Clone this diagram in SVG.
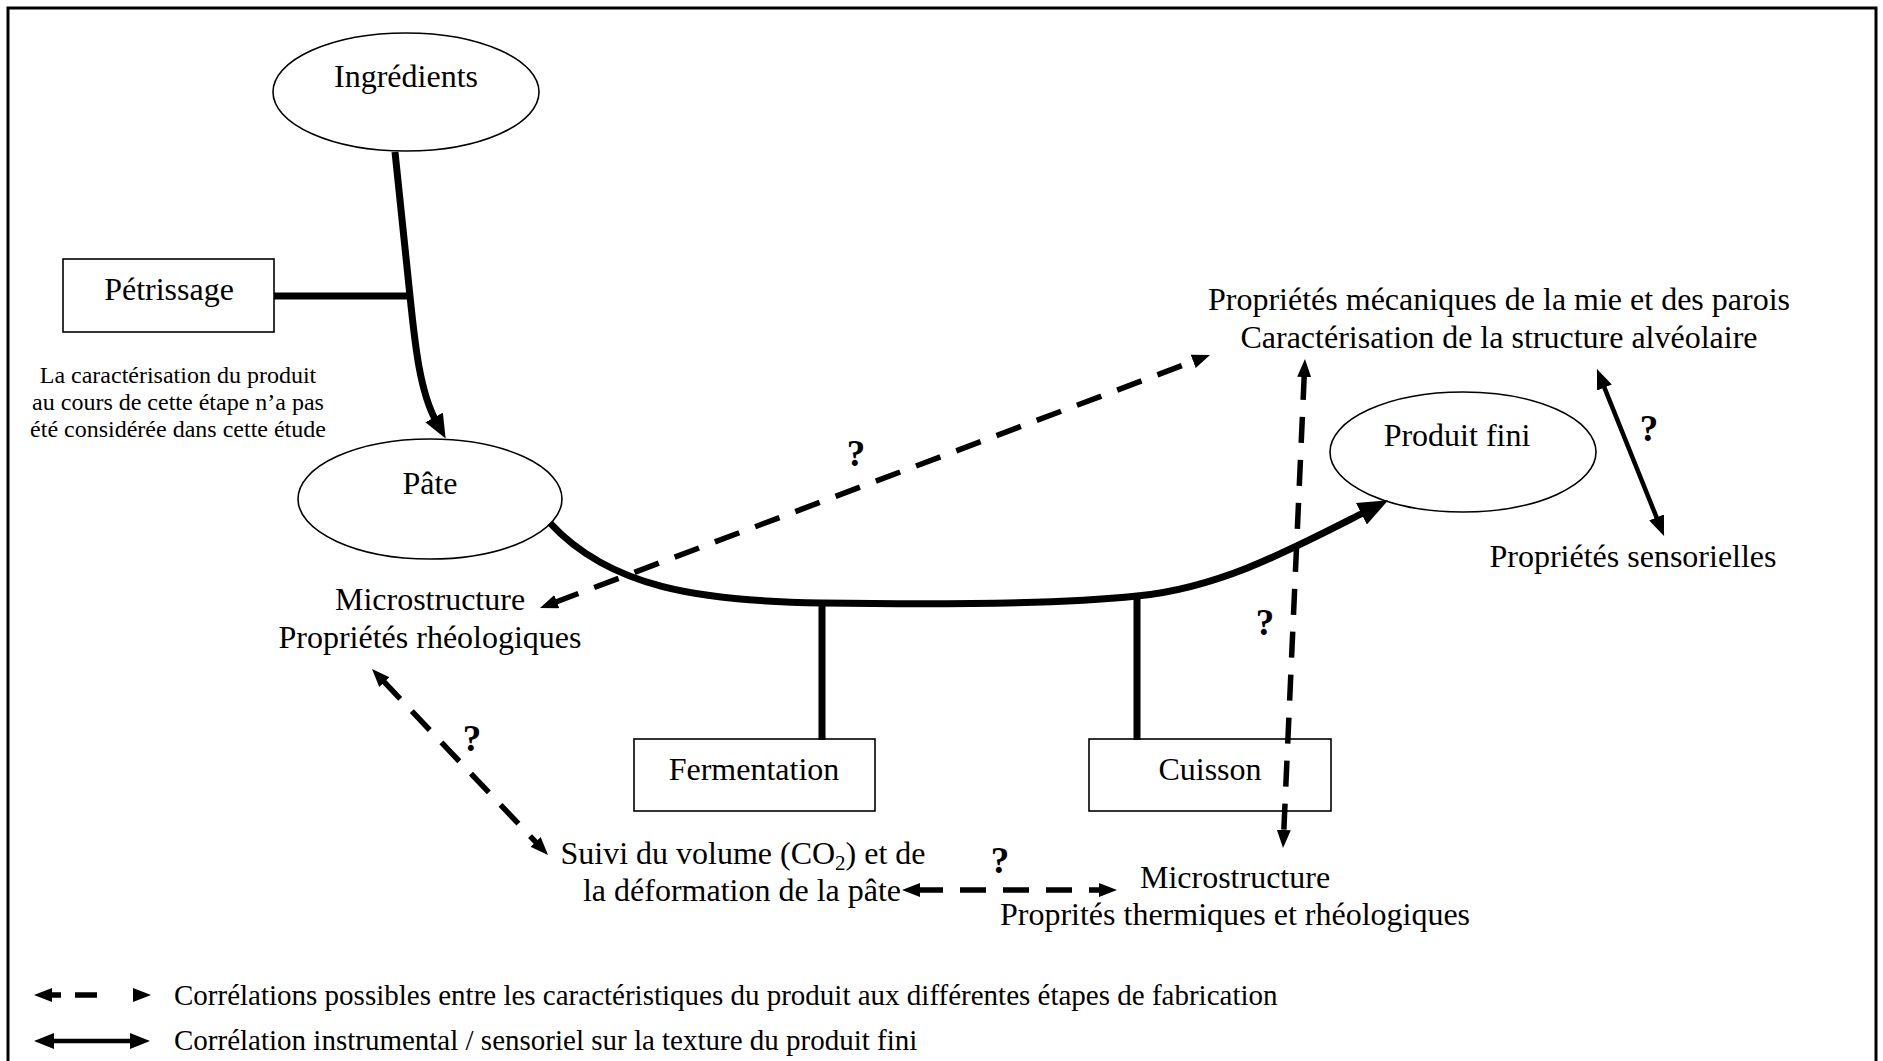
<svg xmlns="http://www.w3.org/2000/svg" width="1883" height="1061" viewBox="0 0 1883 1061">
<style>
text{font-family:"Liberation Serif","Times New Roman",serif;fill:#000}
.t{font-size:32px;text-anchor:middle}
.n{font-size:24px;text-anchor:middle}
.lg{font-size:29px}
.q{font-size:37px;font-weight:bold;text-anchor:middle}
.shape{fill:#fff;stroke:#000;stroke-width:1.6}
.thick{fill:none;stroke:#000;stroke-width:7}
.dash{fill:none;stroke:#000;stroke-width:5.5;stroke-dasharray:26 17}
.solid{fill:none;stroke:#000;stroke-width:4.5}
</style>
<defs>
<marker id="a" markerUnits="userSpaceOnUse" markerWidth="18" markerHeight="14" refX="3" refY="7" orient="auto-start-reverse"><path d="M0,0 L18,7 L0,14 z" fill="#000"/></marker>
<marker id="b" markerUnits="userSpaceOnUse" markerWidth="20" markerHeight="16" refX="3" refY="8" orient="auto-start-reverse"><path d="M0,0 L20,8 L0,16 z" fill="#000"/></marker>
<marker id="c" markerUnits="userSpaceOnUse" markerWidth="30" markerHeight="24" refX="4" refY="12" orient="auto"><path d="M0,0 L30,12 L0,24 z" fill="#000"/></marker>
<marker id="d" markerUnits="userSpaceOnUse" markerWidth="24" markerHeight="20" refX="4" refY="10" orient="auto"><path d="M0,0 L24,10 L0,20 z" fill="#000"/></marker>
</defs>
<rect x="0" y="0" width="1883" height="1061" fill="#fff"/>
<rect x="8" y="8" width="1868" height="1100" fill="none" stroke="#000" stroke-width="3"/>

<g id="ingredients"><ellipse class="shape" cx="406" cy="92" rx="133" ry="59"/><text class="t" x="406" y="87">Ingrédients</text></g>
<g id="petrissage"><rect class="shape" x="63" y="259" width="211" height="73"/><text class="t" x="169" y="300">Pétrissage</text></g>
<g id="note">
<text class="n" x="178" y="383">La caractérisation du produit</text>
<text class="n" x="178" y="410">au cours de cette étape n’a pas</text>
<text class="n" x="178" y="437">été considérée dans cette étude</text>
</g>
<g id="pate"><ellipse class="shape" cx="430" cy="499" rx="132" ry="60"/><text class="t" x="430" y="494">Pâte</text></g>
<g id="pate-props">
<text class="t" x="430" y="610">Microstructure</text>
<text class="t" x="430" y="648">Propriétés rhéologiques</text>
</g>
<g id="mie-props">
<text class="t" x="1499" y="310">Propriétés mécaniques de la mie et des parois</text>
<text class="t" x="1499" y="348">Caractérisation de la structure alvéolaire</text>
</g>
<g id="produit-fini"><ellipse class="shape" cx="1463" cy="452" rx="133" ry="60"/><text class="t" x="1457" y="446">Produit fini</text></g>
<g id="sensorielles"><text class="t" x="1633" y="567">Propriétés sensorielles</text></g>
<g id="fermentation"><rect class="shape" x="634" y="739" width="241" height="72"/><text class="t" x="754" y="780">Fermentation</text></g>
<g id="cuisson"><rect class="shape" x="1089" y="739" width="242" height="72"/><text class="t" x="1210" y="780">Cuisson</text></g>
<g id="suivi">
<text class="t" x="743" y="864">Suivi du volume (CO<tspan font-size="21" dy="6">2</tspan><tspan dy="-6">) et de</tspan></text>
<text class="t" x="742" y="901">la déformation de la pâte</text>
</g>
<g id="cuisson-props">
<text class="t" x="1235" y="888">Microstructure</text>
<text class="t" x="1235" y="925">Proprités thermiques et rhéologiques</text>
</g>

<g id="connectors">
<path class="thick" d="M395,152 L410,296 C415,345 420,392 436,421" marker-end="url(#d)"/>
<line class="thick" x1="274" y1="296" x2="413" y2="296"/>
<path class="thick" d="M550,523 C610,588 700,601 822,603 C950,605 1070,603 1137,596 C1220,588 1290,550 1365,512" marker-end="url(#c)"/>
<line class="thick" x1="822" y1="603" x2="822" y2="740"/>
<line class="thick" x1="1137" y1="597" x2="1137" y2="740"/>
<line class="dash" x1="554" y1="602.7" x2="1196" y2="360.3" marker-start="url(#a)" marker-end="url(#a)"/>
<line class="dash" x1="382.3" y1="679.9" x2="537.7" y2="844.1" marker-start="url(#a)" marker-end="url(#a)"/>
<line class="dash" x1="917" y1="890" x2="1102" y2="890" marker-start="url(#a)" marker-end="url(#a)"/>
<line class="dash" x1="1304.3" y1="374" x2="1283.7" y2="833" marker-start="url(#a)" marker-end="url(#a)"/>
<line class="solid" x1="1603.3" y1="384.8" x2="1657.7" y2="520.2" marker-start="url(#b)" marker-end="url(#b)"/>
<text class="q" x="856" y="466">?</text>
<text class="q" x="1649" y="441">?</text>
<text class="q" x="1265" y="635">?</text>
<text class="q" x="472" y="751">?</text>
<text class="q" x="1000" y="873">?</text>
</g>

<g id="legend">
<line x1="49" y1="995" x2="136" y2="995" stroke="#000" stroke-width="5.5" stroke-dasharray="12 14 22 100" marker-start="url(#a)" marker-end="url(#a)"/>
<line class="solid" x1="51" y1="1041" x2="133" y2="1041" marker-start="url(#b)" marker-end="url(#b)"/>
<text class="lg" x="174" y="1005">Corrélations possibles entre les caractéristiques du produit aux différentes étapes de fabrication</text>
<text class="lg" x="174" y="1050">Corrélation instrumental / sensoriel sur la texture du produit fini</text>
</g>
</svg>
